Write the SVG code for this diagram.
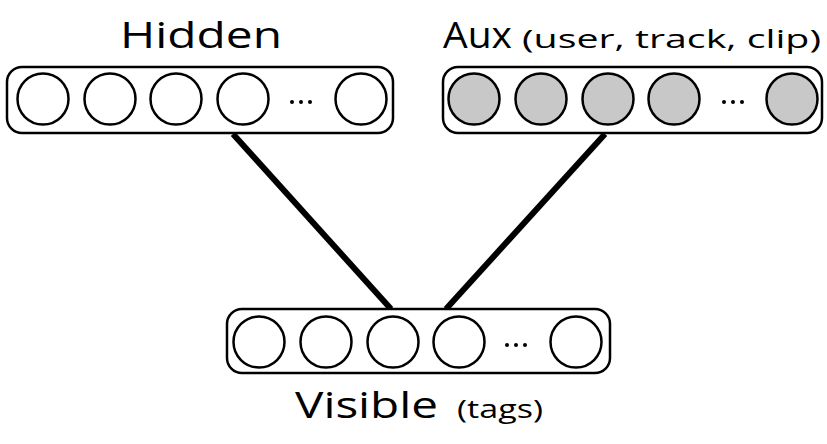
<svg xmlns="http://www.w3.org/2000/svg" width="827" height="444" viewBox="0 0 827 444">
  <style>
    .layer { fill: #ffffff; stroke: #000000; stroke-width: 2.5; }
    .unit { fill: #ffffff; stroke: #000000; stroke-width: 2.5; }
    .unit.aux { fill: #c8c8c8; }
    .dots { fill: #000000; }
    .title { font-family: "Open Sans", "Liberation Sans", sans-serif; font-size: 37px; fill: #000000; }
    .sub { font-family: "Open Sans", "Liberation Sans", sans-serif; font-size: 25px; fill: #000000; }
    .edge { stroke: #000000; stroke-width: 6; stroke-linecap: butt; }
  </style>
  <defs>
    <g id="ellipsis">
      <circle class="dots" cx="-9" cy="0" r="2"/>
      <circle class="dots" cx="0" cy="0" r="2"/>
      <circle class="dots" cx="9" cy="0" r="2"/>
    </g>
  </defs>

  <!-- connections between layers -->
  <g id="connectors">
    <line class="edge" x1="233" y1="134" x2="391" y2="309"/>
    <line class="edge" x1="605" y1="134" x2="446" y2="309"/>
  </g>

  <!-- hidden layer -->
  <g id="hidden">
    <text class="title" x="201" y="48" text-anchor="middle" textLength="162" lengthAdjust="spacingAndGlyphs">Hidden</text>
    <rect class="layer" x="7" y="67" width="386" height="66" rx="15"/>
    <circle class="unit" cx="43" cy="99" r="25.5"/>
    <circle class="unit" cx="110" cy="99" r="25.5"/>
    <circle class="unit" cx="176" cy="99" r="25.5"/>
    <circle class="unit" cx="243" cy="99" r="25.5"/>
    <use href="#ellipsis" x="301" y="102"/>
    <circle class="unit" cx="361" cy="99" r="25.5"/>
  </g>

  <!-- auxiliary layer -->
  <g id="aux">
    <text class="title" x="443" y="48" textLength="69" lengthAdjust="spacingAndGlyphs">Aux</text>
    <text class="sub" x="522" y="48" textLength="299" lengthAdjust="spacingAndGlyphs">(user, track, clip)</text>
    <rect class="layer" x="443" y="67" width="379" height="66" rx="15"/>
    <circle class="unit aux" cx="474" cy="99" r="25.5"/>
    <circle class="unit aux" cx="541" cy="99" r="25.5"/>
    <circle class="unit aux" cx="608" cy="99" r="25.5"/>
    <circle class="unit aux" cx="674" cy="99" r="25.5"/>
    <use href="#ellipsis" x="733" y="102"/>
    <circle class="unit aux" cx="792" cy="99" r="25.5"/>
  </g>

  <!-- visible layer -->
  <g id="visible">
    <rect class="layer" x="227" y="309" width="383" height="64" rx="15"/>
    <circle class="unit" cx="259" cy="342" r="25.5"/>
    <circle class="unit" cx="326" cy="342" r="25.5"/>
    <circle class="unit" cx="393" cy="342" r="25.5"/>
    <circle class="unit" cx="459" cy="342" r="25.5"/>
    <use href="#ellipsis" x="516" y="345"/>
    <circle class="unit" cx="576" cy="342" r="25.5"/>
    <text class="title" x="295" y="418" textLength="143" lengthAdjust="spacingAndGlyphs">Visible</text>
    <text class="sub" x="457" y="418" textLength="86" lengthAdjust="spacingAndGlyphs">(tags)</text>
  </g>
</svg>
